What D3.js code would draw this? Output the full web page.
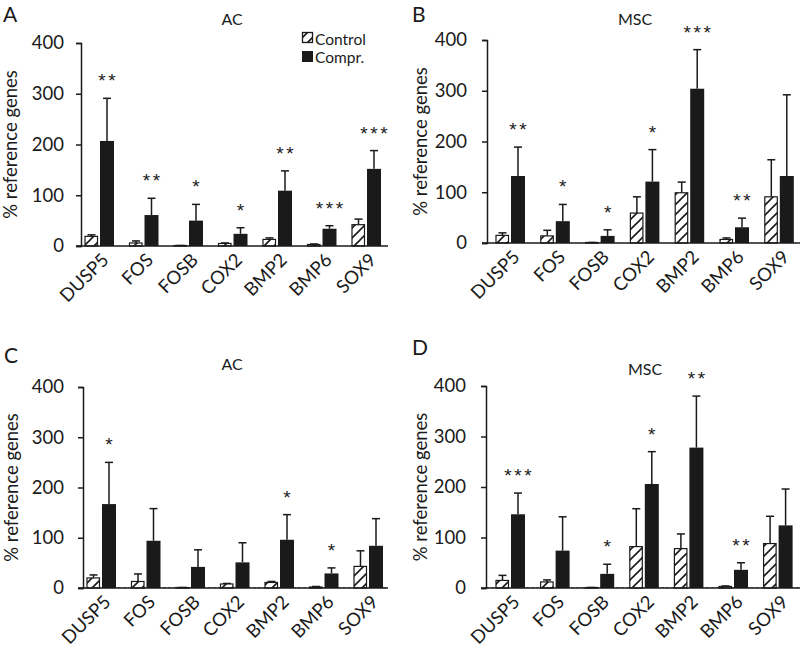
<!DOCTYPE html>
<html>
<head>
<meta charset="utf-8">
<script src="https://cdn.jsdelivr.net/npm/d3@7"></script>
<style>
  body { margin: 0; background: #fff; }
  #chart { position: relative; width: 800px; height: 650px; }
  text { font-family: Lato, sans-serif; fill: #1a1a1a; }
  .gene {
    position: absolute;
    font-family: Lato, sans-serif;
    font-size: 18.5px;
    line-height: 22px;
    color: #1a1a1a;
    white-space: nowrap;
    transform-origin: 100% 100%;
    transform: rotate(-45deg);
  }
</style>
</head>
<body>
<div id="chart"></div>
<script>
// categories and ticks
var genes = ['DUSP5', 'FOS', 'FOSB', 'COX2', 'BMP2', 'BMP6', 'SOX9'];
var yTicks = [0, 100, 200, 300, 400];

// panel A - AC
var controlA = [19, 6, 1, 5, 13, 3, 42];
var controlTopA = [22, 10, 1, 6, 16, 4, 53];
var comprA = [207, 61, 50, 24, 109, 34, 152];
var comprTopA = [291, 94, 82, 36, 148, 40, 188];
var starsA = [2, 2, 1, 1, 2, 3, 3];

// panel B - MSC
var controlB = [15, 14, 1, 59, 99, 7, 91];
var controlTopB = [20, 25, 1, 91, 120, 10, 164];
var comprB = [132, 43, 14, 121, 304, 31, 132];
var comprTopB = [189, 76, 26, 184, 381, 49, 292];
var starsB = [2, 1, 1, 1, 3, 2, 0];

// panel C - AC
var controlC = [20, 13, 1, 8, 11, 2, 43];
var controlTopC = [26, 28, 1, 9, 13, 3, 74];
var comprC = [167, 94, 42, 51, 96, 29, 84];
var comprTopC = [250, 158, 76, 90, 146, 40, 138];
var starsC = [1, 0, 0, 0, 1, 1, 0];

// panel D - MSC
var controlD = [15, 12, 1, 82, 78, 3, 88];
var controlTopD = [25, 16, 1, 157, 107, 4, 142];
var comprD = [146, 74, 28, 206, 278, 36, 124];
var comprTopD = [188, 141, 47, 270, 380, 50, 196];
var starsD = [3, 0, 1, 1, 2, 2, 0];

var panels = [
  { letter: 'A', title: 'AC', control: controlA, controlTop: controlTopA, compr: comprA, comprTop: comprTopA, stars: starsA,
    axisX: 81, axisEnd: 388, first: 99, step: 44.5, yBase: 246, yTop: 43, pad: 12, labelX: 17,
    titleX: 232, titleY: 25, letterX: 3, letterY: 22, legend: true, dashed: false },
  { letter: 'B', title: 'MSC', control: controlB, controlTop: controlTopB, compr: comprB, comprTop: comprTopB, stars: starsB,
    axisX: 487, axisEnd: 800, first: 510, step: 44.8, yBase: 243, yTop: 40, pad: 15, labelX: 427,
    titleX: 635, titleY: 25, letterX: 412, letterY: 22, legend: false, dashed: false },
  { letter: 'C', title: 'AC', control: controlC, controlTop: controlTopC, compr: comprC, comprTop: comprTopC, stars: starsC,
    axisX: 83, axisEnd: 388, first: 101, step: 44.5, yBase: 588, yTop: 387, pad: 14, labelX: 18,
    titleX: 232, titleY: 370, letterX: 4, letterY: 363, legend: false, dashed: true },
  { letter: 'D', title: 'MSC', control: controlD, controlTop: controlTopD, compr: comprD, comprTop: comprTopD, stars: starsD,
    axisX: 486, axisEnd: 800, first: 510, step: 44.6, yBase: 588, yTop: 386, pad: 15, labelX: 427,
    titleX: 645, titleY: 375, letterX: 412, letterY: 355, legend: false, dashed: true }
];

var width = 800;
var height = 650;
var ink = '#1a1a1a';

var chart = d3.select('#chart');

var svg = chart
  .append('svg')
  .attr('width', width)
  .attr('height', height);

// diagonal hatch for control bars
var pattern = svg.append('defs')
  .append('pattern')
  .attr('id', 'hatch')
  .attr('patternUnits', 'userSpaceOnUse')
  .attr('width', 10)
  .attr('height', 10);
pattern.append('rect').attr('width', 10).attr('height', 10).attr('fill', '#fff');
pattern.append('path')
  .attr('d', 'M-2,2 L2,-2 M0,10 L10,0 M8,12 L12,8')
  .attr('stroke', ink)
  .attr('stroke-width', 1.6);

panels.forEach(function(p) {
  var g = svg.append('g');

  var x = d3.scaleBand()
    .domain(genes)
    .range([p.first - p.step / 2, p.first + p.step * 6.5]);

  var y = d3.scaleLinear()
    .domain([0, 400])
    .range([p.yBase, p.yTop]);

  var bw = x.bandwidth();
  var center = function(d) { return x(d) + bw / 2; };

  // panel letter and title
  g.append('text')
    .attr('x', p.letterX)
    .attr('y', p.letterY)
    .style('font-size', '21px')
    .text(p.letter);

  g.append('text')
    .attr('x', p.titleX)
    .attr('y', p.titleY)
    .attr('text-anchor', 'middle')
    .style('font-size', '16px')
    .text(p.title);

  // dashed baseline
  if (p.dashed) {
    g.append('line')
      .attr('x1', p.axisX)
      .attr('x2', p.axisEnd)
      .attr('y1', y(1))
      .attr('y2', y(1))
      .attr('stroke', '#888')
      .attr('stroke-width', 1)
      .attr('stroke-dasharray', '3,2');
  }

  // y axis
  var yAxis = d3.axisLeft(y)
    .tickValues(yTicks)
    .tickSize(5)
    .tickPadding(p.pad);

  var ya = g.append('g')
    .attr('transform', 'translate(' + p.axisX + ',0)')
    .call(yAxis);
  ya.select('.domain').attr('stroke', ink).attr('stroke-width', 1.5);
  ya.selectAll('.tick line').attr('stroke', ink).attr('stroke-width', 1.5);
  ya.selectAll('.tick text')
    .style('font-family', 'Lato, sans-serif')
    .style('font-size', '18.5px')
    .attr('fill', ink);

  g.append('text')
    .attr('transform', 'translate(' + p.labelX + ',' + ((p.yBase + p.yTop) / 2) + ') rotate(-90)')
    .attr('text-anchor', 'middle')
    .style('font-size', '18.5px')
    .text('% reference genes');

  // bars
  genes.forEach(function(gene, i) {
    var cx = center(gene);

    // control
    g.append('line')
      .attr('x1', cx - 7.5).attr('x2', cx - 7.5)
      .attr('y1', y(p.control[i])).attr('y2', y(p.controlTop[i]))
      .attr('stroke', ink).attr('stroke-width', 1.5);
    g.append('line')
      .attr('x1', cx - 11.5).attr('x2', cx - 3.5)
      .attr('y1', y(p.controlTop[i])).attr('y2', y(p.controlTop[i]))
      .attr('stroke', ink).attr('stroke-width', 1.5);
    g.append('rect')
      .attr('x', cx - 14)
      .attr('y', y(p.control[i]))
      .attr('width', 12.5)
      .attr('height', p.yBase - y(p.control[i]))
      .attr('fill', 'url(#hatch)')
      .attr('stroke', ink)
      .attr('stroke-width', 1.2);

    // compressed
    g.append('line')
      .attr('x1', cx + 8).attr('x2', cx + 8)
      .attr('y1', y(p.compr[i])).attr('y2', y(p.comprTop[i]))
      .attr('stroke', ink).attr('stroke-width', 1.5);
    g.append('line')
      .attr('x1', cx + 4).attr('x2', cx + 12)
      .attr('y1', y(p.comprTop[i])).attr('y2', y(p.comprTop[i]))
      .attr('stroke', ink).attr('stroke-width', 1.5);
    g.append('rect')
      .attr('x', cx + 1)
      .attr('y', y(p.compr[i]))
      .attr('width', 14)
      .attr('height', p.yBase - y(p.compr[i]))
      .attr('fill', ink);

    // significance asterisks, one text per star
    for (var k = 0; k < p.stars[i]; k++) {
      g.append('text')
        .attr('x', cx + 8 + (k - (p.stars[i] - 1) / 2) * 10)
        .attr('y', y(p.comprTop[i]) - 11)
        .attr('text-anchor', 'middle')
        .style('font-family', '"Liberation Sans", sans-serif')
        .style('font-size', '19px')
        .text('*');
    }

    // gene label as an html overlay, rotated 45 degrees around its bottom right corner
    var lx = cx + 14;
    var ly = p.yBase + 18;
    chart.append('div')
      .attr('class', 'gene')
      .style('right', (width - lx) + 'px')
      .style('top', (ly - 22) + 'px')
      .text(gene);
  });

  // x axis line
  g.append('line')
    .attr('x1', p.axisX - 5)
    .attr('x2', p.axisEnd)
    .attr('y1', p.yBase)
    .attr('y2', p.yBase)
    .attr('stroke', ink)
    .attr('stroke-width', 1.5);

  // legend
  if (p.legend) {
    var lg = g.append('g');
    lg.append('rect')
      .attr('x', 302.5).attr('y', 32.5)
      .attr('width', 10).attr('height', 10)
      .attr('fill', 'url(#hatch)')
      .attr('stroke', ink).attr('stroke-width', 1.3);
    lg.append('text')
      .attr('x', 315).attr('y', 45)
      .style('font-size', '15.5px')
      .text('Control');
    lg.append('rect')
      .attr('x', 302).attr('y', 51)
      .attr('width', 11).attr('height', 11)
      .attr('fill', ink);
    lg.append('text')
      .attr('x', 315).attr('y', 63)
      .style('font-size', '15.5px')
      .text('Compr.');
  }
});
</script>
</body>
</html>
